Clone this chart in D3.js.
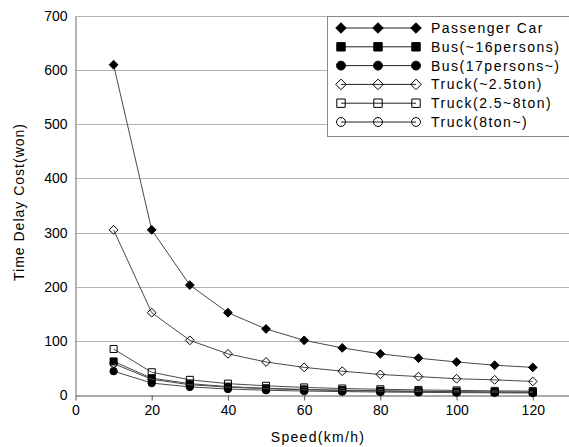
<!DOCTYPE html>
<html>
<head>
<meta charset="utf-8">
<script src="https://cdn.jsdelivr.net/npm/d3@7"></script>
<style>
  html, body { margin: 0; padding: 0; background: #fff; overflow: hidden; }
  svg { display: block; font-family: "Liberation Sans", Arial, sans-serif; }
</style>
</head>
<body>
<div id="chart"></div>
<script>
// speeds on the x axis
const speeds = [10, 20, 30, 40, 50, 60, 70, 80, 90, 100, 110, 120];

// series values (won)
const passengerCar = [610, 305, 203, 152, 122, 101, 87, 76, 68, 61, 55, 51];
const busSmall     = [62, 31, 21, 15.5, 12.4, 10.3, 8.9, 7.8, 6.9, 6.2, 5.6, 5.2];
const busLarge     = [44, 22, 15, 11, 8.8, 7.3, 6.3, 5.5, 4.9, 4.4, 4.0, 3.7];
const truckLight   = [305, 152, 101, 76, 61, 51, 44, 38, 34, 30, 28, 25];
const truckMid     = [85, 42, 28, 21, 17, 14, 12, 10.6, 9.4, 8.5, 7.7, 7.1];
const truckHeavy   = [58, 29, 19, 14.5, 11.6, 9.7, 8.3, 7.3, 6.4, 5.8, 5.3, 4.8];

const seriesNames = ["Passenger Car", "Bus(~16persons)", "Bus(17persons~)",
                     "Truck(~2.5ton)", "Truck(2.5~8ton)", "Truck(8ton~)"];
const seriesValues = [passengerCar, busSmall, busLarge, truckLight, truckMid, truckHeavy];
const seriesMarkers = ["diamond", "square", "circle", "diamond", "square", "circle"];
const seriesFilled = [true, true, true, false, false, false];

// the 140 end of the axis is cropped off in the original
const xTicks = [0, 20, 40, 60, 80, 100, 120];
const yTicks = [0, 100, 200, 300, 400, 500, 600, 700];

const width = 569, height = 447;
const margin = { top: 16, left: 75.5, bottom: 52 };

const svg = d3.select("#chart").append("svg")
    .attr("width", width)
    .attr("height", height);

// x runs past the right edge like the cropped original
const x = d3.scaleLinear().domain([0, 140]).range([margin.left, 609]);
const y = d3.scaleLinear().domain([0, 700]).range([height - margin.bottom, margin.top]);

// gridlines
svg.append("g")
    .selectAll("line")
    .data(yTicks.slice(1))
    .join("line")
    .attr("x1", margin.left).attr("x2", x(140))
    .attr("y1", d => Math.round(y(d)) + 0.5).attr("y2", d => Math.round(y(d)) + 0.5)
    .attr("stroke", "#b4b4b4")
    .attr("stroke-width", 1);

// y axis
const yAxis = svg.append("g")
    .attr("transform", `translate(${margin.left},0)`)
    .call(d3.axisLeft(y).tickValues(yTicks).tickSize(0).tickPadding(8));
yAxis.select(".domain").attr("stroke", "#9a9a9a").attr("stroke-width", 1.5);
yAxis.selectAll("text").attr("font-size", 14).attr("fill", "#000")
    .attr("font-family", "Liberation Sans, Arial, sans-serif");

// x axis
const xAxis = svg.append("g")
    .attr("transform", `translate(0,${Math.round(y(0)) + 0.5})`)
    .call(d3.axisBottom(x).tickValues(xTicks).tickSize(5).tickSizeOuter(0).tickPadding(5));
xAxis.select(".domain").attr("stroke", "#555");
xAxis.selectAll(".tick line").attr("stroke", "#555");
xAxis.selectAll("text").attr("font-size", 14).attr("fill", "#000")
    .attr("font-family", "Liberation Sans, Arial, sans-serif");

// axis titles
svg.append("text")
    .attr("x", 318).attr("y", 442)
    .attr("text-anchor", "middle")
    .attr("font-size", 14)
    .attr("letter-spacing", 1.3)
    .text("Speed(km/h)");

svg.append("text")
    .attr("transform", "translate(24,202) rotate(-90)")
    .attr("text-anchor", "middle")
    .attr("font-size", 14)
    .attr("letter-spacing", 1)
    .text("Time Delay Cost(won)");

// marker shapes
const markerTypes = {
    diamond: { draw(ctx, r) { ctx.moveTo(0, -r); ctx.lineTo(r, 0); ctx.lineTo(0, r); ctx.lineTo(-r, 0); ctx.closePath(); } },
    square:  { draw(ctx, r) { ctx.rect(-r, -r, 2 * r, 2 * r); } },
    circle:  { draw(ctx, r) { ctx.moveTo(r, 0); ctx.arc(0, 0, r, 0, 2 * Math.PI); } }
};
const markerSize = { diamond: 4.4, square: 3.5, circle: 3.7 };

function markerPath(kind, scale) {
    return d3.symbol().type(markerTypes[kind]).size(markerSize[kind] * scale)();
}

const line = d3.line()
    .x((d, i) => x(speeds[i]))
    .y(d => y(d));

// series
seriesValues.forEach((values, s) => {
    const g = svg.append("g");
    g.append("path")
        .attr("d", line(values))
        .attr("fill", "none")
        .attr("stroke", "#4a4a4a")
        .attr("stroke-width", 1);
    g.selectAll("path.marker")
        .data(values)
        .join("path")
        .attr("class", "marker")
        .attr("transform", (d, i) => `translate(${x(speeds[i])},${y(d)})`)
        .attr("d", markerPath(seriesMarkers[s], 1))
        .attr("fill", seriesFilled[s] ? "#000" : "none")
        .attr("stroke", "#000")
        .attr("stroke-width", 1);
});

// legend
const legend = svg.append("g");
legend.append("rect")
    .attr("x", 327.5).attr("y", 16.5)
    .attr("width", 260).attr("height", 120)
    .attr("fill", "#fff")
    .attr("stroke", "#8a8a8a")
    .attr("stroke-width", 1);

const legendX = [341, 378, 416];
seriesNames.forEach((name, s) => {
    const cy = 28 + s * 18.8;
    const row = legend.append("g");
    row.append("line")
        .attr("x1", legendX[0]).attr("x2", legendX[2])
        .attr("y1", cy).attr("y2", cy)
        .attr("stroke", "#222")
        .attr("stroke-width", 1);
    row.selectAll("path")
        .data(legendX)
        .join("path")
        .attr("transform", d => `translate(${d},${cy})`)
        .attr("d", markerPath(seriesMarkers[s], 1.2))
        .attr("fill", seriesFilled[s] ? "#000" : "none")
        .attr("stroke", "#000")
        .attr("stroke-width", 1);
    row.append("text")
        .attr("x", 431).attr("y", cy + 5)
        .attr("font-size", 14)
        .attr("letter-spacing", 1.5)
        .text(name);
});
</script>
</body>
</html>
